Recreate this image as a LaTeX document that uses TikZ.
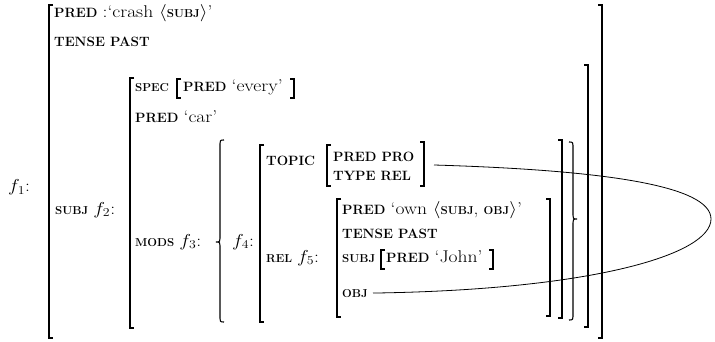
\documentclass[tikz,border=0pt]{standalone}
\usepackage{graphicx}
\newcommand\kw[1]{{\fontsize{13.5}{15}\selectfont\bfseries #1}}
\newcommand\kws[1]{{\fontsize{11.5}{13}\selectfont\bfseries #1}}
\newcommand\rt[1]{\scalebox{1.15}[1]{#1}}
\newcommand\rg{\fontsize{17}{19}\selectfont}
\newcommand\lbrk[3]{\draw[brk] (#1+4,-#2) -- (#1,-#2) -- (#1,-#3) -- (#1+4,-#3);}
\newcommand\rbrk[3]{\draw[brk] (#1-4,-#2) -- (#1,-#2) -- (#1,-#3) -- (#1-4,-#3);}
\newcommand\lbrc[4]{\draw[brk] (#1+4,-#2) .. controls (#1,-#2) .. (#1,-#2-7) -- (#1,-#3+7) .. controls (#1,-#3) .. (#1-4,-#3) .. controls (#1,-#3) .. (#1,-#3-7) -- (#1,-#4+7) .. controls (#1,-#4) .. (#1+4,-#4);}
\newcommand\rbrc[4]{\draw[brk] (#1-4,-#2) .. controls (#1,-#2) .. (#1,-#2-7) -- (#1,-#3+7) .. controls (#1,-#3) .. (#1+4,-#3) .. controls (#1,-#3) .. (#1,-#3-7) -- (#1,-#4+7) .. controls (#1,-#4) .. (#1-4,-#4);}
\tikzset{txt/.style={anchor=base west, inner sep=0pt, font=\rg},
  brk/.style={line width=1.1pt},
  link/.style={line width=0.8pt}}
\begin{document}
\begin{tikzpicture}[x=1pt,y=1pt]
\useasboundingbox (0,0) rectangle (715,-342);
% text
\node[txt] (n1) at (54,-18) {\kw{PRED} \rt{:`crash $\langle$}\kws{SUBJ}\rt{$\rangle$'}};
\node[txt] (n2) at (54,-47) {\kw{TENSE PAST}};
\node[txt] (n3) at (135,-92) {\kws{SPEC}};
\node[txt] (n4) at (183,-92) {\kw{PRED} \rt{`every'}};
\node[txt] (n5) at (135,-123) {\kw{PRED} \rt{`car'}};
\node[txt] (f1) at (8,-192) {\rt{$f_1$:}};
\node[txt] (n6) at (55,-214) {\kws{SUBJ} \rt{$f_2$:}};
\node[txt] (n7) at (266,-166) {\kw{TOPIC}};
\node[txt] (n8) at (333,-161) {\kw{PRED PRO}};
\node[txt] (n9) at (333,-180) {\kw{TYPE REL}};
\node[txt] (n10) at (135,-246) {\kws{MODS} \rt{$f_3$:}};
\node[txt] (n11) at (232,-246) {\rt{$f_4$:}};
\node[txt] (n12) at (266,-262) {\kws{REL} \rt{$f_5$:}};
\node[txt] (n13) at (342,-214) {\kw{PRED} \rt{`own $\langle$}\kws{SUBJ}\rt{,} \kws{OBJ}\rt{$\rangle$'}};
\node[txt] (n14) at (342,-238) {\kw{TENSE PAST}};
\node[txt] (n15) at (342,-262) {\kws{SUBJ}};
\node[txt] (n16) at (386,-262) {\kw{PRED} \rt{`John'}};
\node[txt] (n17) at (342,-297) {\kws{OBJ}};
% brackets
\lbrk{49}{5}{338}  \rbrk{602}{5}{338}
\lbrk{130}{78}{328} \rbrk{588}{65}{327}
\lbrk{177}{79}{98} \rbrk{294}{79}{98}
\lbrc{220}{140}{242}{322} \rbrc{573}{142}{219}{320}
\lbrk{260}{145}{322} \rbrk{562}{140}{318}
\lbrk{327}{145}{186} \rbrk{424}{142}{186}
\lbrk{337}{199}{317} \rbrk{550}{199}{316}
\lbrk{381}{250}{269} \rbrk{493}{250}{269}
% link
\coordinate (c0) at (434,-165);
\draw[link] (c0) .. controls (600,-170) and (711,-185) .. (711,-219)
  .. controls (711,-255) and (590,-290) .. ([xshift=5pt]n17.east);
\end{tikzpicture}
\end{document}
